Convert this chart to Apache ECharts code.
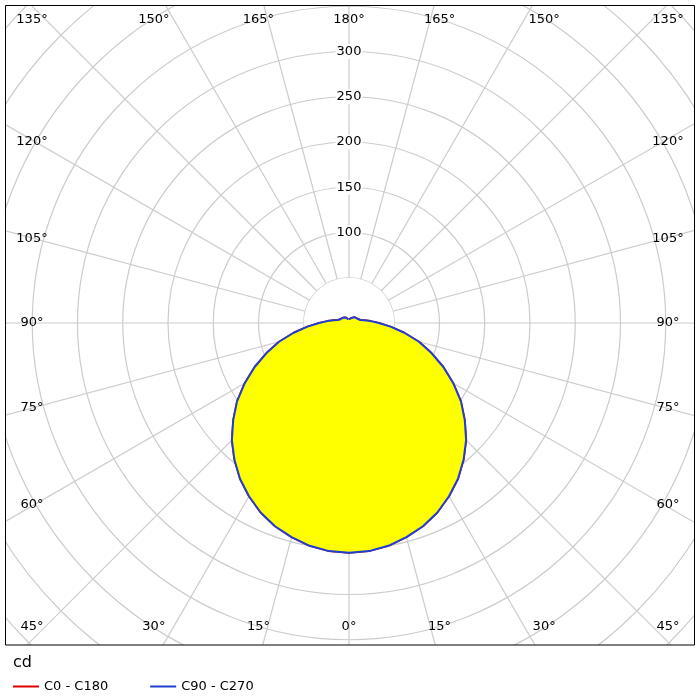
<!DOCTYPE html>
<html><head><meta charset="utf-8">
<script src="https://cdn.jsdelivr.net/npm/echarts@6/dist/echarts.min.js"></script>
<style>html,body{margin:0;padding:0;background:#fff}#c{width:700px;height:700px}</style>
</head><body><div id="c"></div>
<script>
// Gamma angles (deg, 0 = straight down) and intensities (cd)
const gammaAngles = [0,5,10,15,20,25,30,35,40,45,50,55,60,65,70,75,80,85,90,95,100,105,110,115,120,125,130,135,140,145,150,155,160,165,170,175,180];
const c0c180 = [254,253,250,245,239,231,221,210,197,183,167,151,133,115,97,80,62,46,33,24,17,13,11,10,10,10,9,9,8,8,7,6,5,5,4,4,4];
const c90c270 = [254,253,250,245,239,231,221,210,197,183,167,151,133,115,97,80,62,46,33,24,17,13,11,10,10,10,9,9,8,8,7,6,5,5,4,4,4];
const radiusTickLabels = [100,150,200,250,300];
const seriesNames = ['C0 - C180','C90 - C270'];
const unitLabel = 'cd';

const CX=349, CY=323, PXPERCD=0.905, RMAX=550;
const FONT='DejaVu Sans';

function polarData(vals){
  const d=[];
  for(let i=gammaAngles.length-1;i>=0;i--) d.push([vals[i],180-gammaAngles[i]]);
  for(let i=1;i<gammaAngles.length;i++) d.push([vals[i],180+gammaAngles[i]]);
  return d;
}

const chart=echarts.init(document.getElementById('c'));
const graphics=[];
// white covers outside frame
graphics.push({type:'rect',z:100,shape:{x:0,y:0,width:700,height:5},style:{fill:'#fff'}});
graphics.push({type:'rect',z:100,shape:{x:0,y:0,width:5,height:700},style:{fill:'#fff'}});
graphics.push({type:'rect',z:100,shape:{x:695,y:0,width:5,height:700},style:{fill:'#fff'}});
graphics.push({type:'rect',z:100,shape:{x:0,y:645,width:700,height:55},style:{fill:'#fff'}});
graphics.push({type:'rect',z:101,shape:{x:5.5,y:5.5,width:689,height:639.5},style:{fill:null,stroke:'#000',lineWidth:1}});
graphics.push({type:'circle',z:1,shape:{cx:CX,cy:CY,r:50*PXPERCD},style:{fill:'#fff'}});
graphics.push({type:'text',z:102,left:13,top:655,style:{text:unitLabel,font:'16px '+FONT,fill:'#000'}});
// angle labels along the frame
for(let a=0;a<360;a+=15){
  const g = Math.abs(180-a); // displayed gamma
  const rad=a*Math.PI/180; // a measured clockwise from top
  const dx=Math.sin(rad), dy=-Math.cos(rad);
  let x,y;
  if(a%90===45){ x= dx>0?668:32; y= dy>0?627:20; }
  else if(Math.abs(dy)>Math.abs(dx)){ x=CX+338*dx/Math.abs(dy); y= dy>0?627:20; }
  else { y=CY+315*dy/Math.abs(dx); x= dx>0?668:32; }
  graphics.push({type:'text',z:5,x:x,y:y,style:{text:g+'°',font:'13px '+FONT,fill:'#000',align:'center',verticalAlign:'middle'}});
}

chart.setOption({
  animation:false,
  polar:{center:[CX,CY],radius:RMAX*PXPERCD},
  angleAxis:{type:'value',min:0,max:360,interval:15,startAngle:90,clockwise:true,
    axisLine:{show:false},axisTick:{show:false},axisLabel:{show:false},
    splitLine:{show:true,lineStyle:{color:'#cccccc',width:1.2}}},
  radiusAxis:{type:'value',min:0,max:RMAX,interval:50,
    axisLine:{show:false},axisTick:{show:false},axisLabel:{show:false},
    splitLine:{show:true,lineStyle:{color:'#cccccc',width:1.2}}},
  legend:{z:200,left:8,top:675,itemWidth:26,itemHeight:2,icon:'rect',itemGap:42,
    textStyle:{fontFamily:FONT,fontSize:13,color:'#000'},data:seriesNames},
  series:[
    {name:seriesNames[0],type:'line',coordinateSystem:'polar',symbol:'none',z:2,
      data:polarData(c0c180),lineStyle:{color:'#e00000',width:2},itemStyle:{color:'#e00000'},
      areaStyle:{color:'#ffff00',opacity:1}},
    {name:seriesNames[1],type:'line',coordinateSystem:'polar',symbol:'none',z:3,
      data:polarData(c90c270),lineStyle:{color:'#1f3fd0',width:2},itemStyle:{color:'#1f3fd0'},
      areaStyle:{color:'#ffff00',opacity:1}}
  ]
});
for(const v of radiusTickLabels){
  const p=chart.convertToPixel({polarIndex:0},[v,0]);
  graphics.push({type:'text',z:6,x:p[0],y:p[1],style:{text:String(v),font:'13px '+FONT,fill:'#000',align:'center',verticalAlign:'middle',backgroundColor:'#fff',padding:[1,1]}});
}
chart.setOption({graphic:graphics});
</script></body></html>
